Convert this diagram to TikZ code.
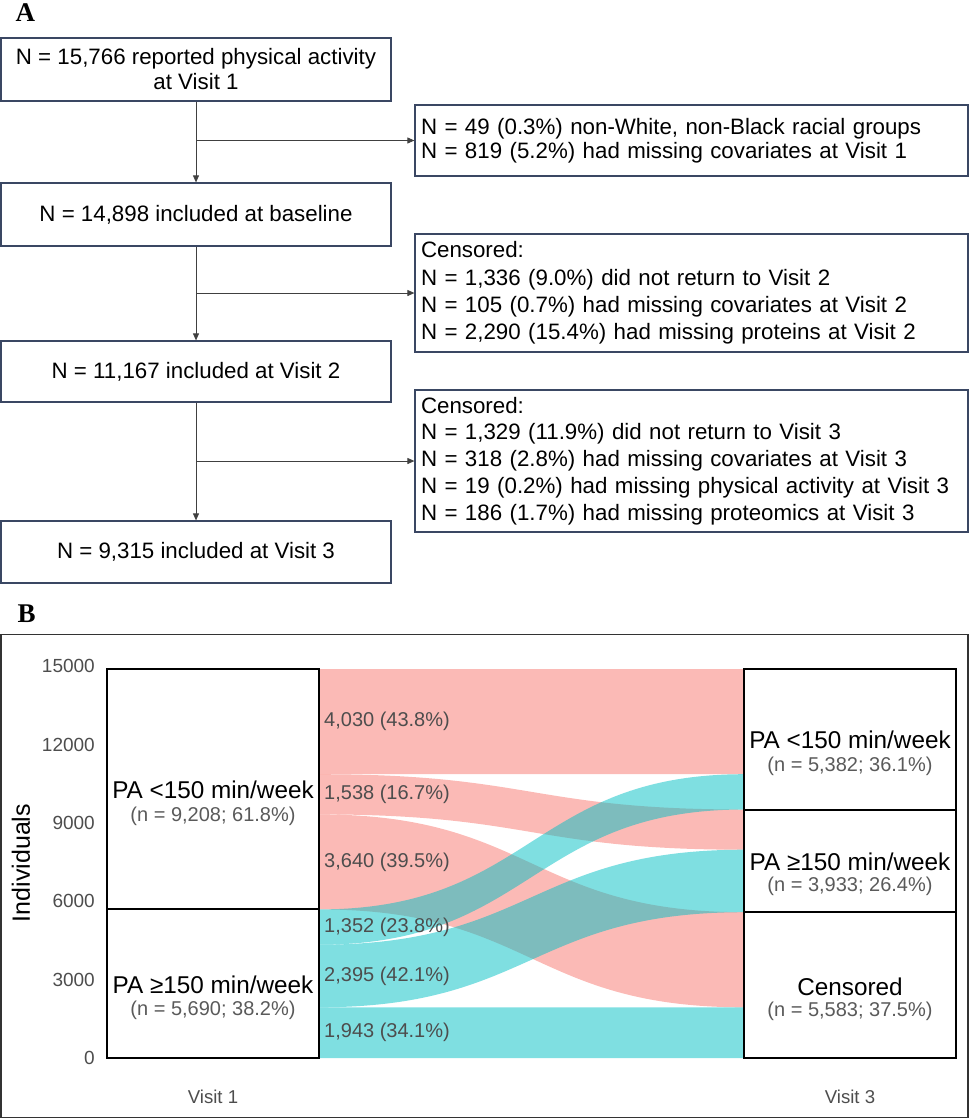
\documentclass[tikz,border=0pt]{standalone}
\usepackage{fontspec}
\setmainfont{Liberation Sans}
\newfontfamily\panelfont{Liberation Serif}
\usetikzlibrary{arrows.meta}
\definecolor{boxedge}{HTML}{3A4763}
\definecolor{arrowgray}{HTML}{404040}
\definecolor{pinkflow}{HTML}{F8766D}
\definecolor{cyanflow}{HTML}{00BFC4}
\definecolor{labgray}{HTML}{4D4D4D}
\definecolor{subgray}{HTML}{5A5A5A}
\definecolor{framegray}{HTML}{333333}
\newcommand\sflow[5]{\fill[#1, fill opacity=0.5] (319,#2) .. controls (531.5,#2) and (531.5,#4) .. (744,#4) -- (744,#5) .. controls (531.5,#5) and (531.5,#3) .. (319,#3) -- cycle;}
\begin{document}
\begin{tikzpicture}[x=1pt,y=-1pt,
  fbox/.style={draw=boxedge, line width=1.2pt, minimum width=390pt, minimum height=62pt, inner sep=0pt, align=center, font=\fontsize{22.3}{25}\selectfont},
  sbox/.style={draw=boxedge, line width=1.2pt, text width=541pt, inner xsep=6pt, inner ysep=0pt, align=left, minimum width=553pt},
  arr/.style={draw=arrowgray, line width=0.9pt, -{Triangle[length=7pt,width=6pt]}},
  panellab/.style={font=\panelfont\bfseries\fontsize{27}{27}\selectfont, inner sep=0pt},
  stratum/.style={draw=black, line width=2pt, fill=white, minimum width=212pt, inner sep=0pt},
  mainlab/.style={font=\fontsize{24.3}{24.3}\selectfont, inner sep=0pt},
  sublab/.style={font=\fontsize{20}{20}\selectfont, text=subgray, inner sep=0pt},
  flowlab/.style={font=\fontsize{20}{20}\selectfont, text=labgray, inner sep=0pt, anchor=west},
  ticklab/.style={font=\fontsize{19}{19}\selectfont, text=labgray, inner sep=0pt, anchor=east},
]
\useasboundingbox (0,0) rectangle (969,1119);

% ---------------- Panel A ----------------
\node[panellab] (labA) at (25.3,13) {A};

\node[fbox, minimum height=63pt] (box1) at (196,69.5) {N = 15,766 reported physical activity\\at Visit 1};
\node[fbox, minimum height=63pt] (box2) at (196,214.5) {N = 14,898 included at baseline};
\node[fbox, minimum height=61pt] (box3) at (196,371.5) {N = 11,167 included at Visit 2};
\node[fbox, minimum height=62pt] (box4) at (196,552) {N = 9,315 included at Visit 3};

\node[sbox, minimum height=71pt, font=\fontsize{22.3}{24.5}\selectfont] (s1) at (691.5,140.5)
  {N = 49 (0.3\%) non-White, non-Black racial groups\\N = 819 (5.2\%) had missing covariates at Visit 1};
\node[sbox, minimum height=118pt, font=\fontsize{22.3}{27.3}\selectfont] (s2) at (691.5,293)
  {Censored:\\N = 1,336 (9.0\%) did not return to Visit 2\\N = 105 (0.7\%) had missing covariates at Visit 2\\N = 2,290 (15.4\%) had missing proteins at Visit 2};
\node[sbox, minimum height=142pt, font=\fontsize{22.3}{26.8}\selectfont] (s3) at (691.5,461)
  {Censored:\\N = 1,329 (11.9\%) did not return to Visit 3\\N = 318 (2.8\%) had missing covariates at Visit 3\\N = 19 (0.2\%) had missing physical activity at Visit 3\\N = 186 (1.7\%) had missing proteomics at Visit 3};

\draw[arr] (box1.south) -- (box2.north);
\draw[arr] (box2.south) -- (box3.north);
\draw[arr] (box3.south) -- (box4.north);
\draw[arr] (box1.south |- s1.west) -- (s1.west);
\draw[arr] (box2.south |- s2.west) -- (s2.west);
\draw[arr] (box3.south |- s3.west) -- (s3.west);

% ---------------- Panel B ----------------
\node[panellab] (labB) at (26.7,614) {B};
\draw[framegray, line width=1.5pt] (0.75,634.5) rectangle (968.2,1117.5);

% flows
\sflow{pinkflow}{669}{774.2}{669}{774.2}
\sflow{pinkflow}{774.2}{814.4}{809.5}{849.7}
\sflow{pinkflow}{814.4}{909.4}{912.2}{1007.3}
\sflow{cyanflow}{909.4}{944.7}{774.2}{809.5}
\sflow{cyanflow}{944.7}{1007.3}{849.7}{912.2}
\sflow{cyanflow}{1007.3}{1058}{1007.3}{1058}

% strata
\node[stratum, minimum height=240.4pt] (L1) at (213,789.2) {};
\node[stratum, minimum height=148.6pt] (L2) at (213,983.7) {};
\node[stratum, minimum height=140.5pt] (R1) at (850,739.25) {};
\node[stratum, minimum height=102.7pt] (R2) at (850,860.85) {};
\node[stratum, minimum height=145.8pt] (R3) at (850,985.1) {};

\node[mainlab] (L1m) at (213,790) {PA <150 min/week};
\node[sublab] (L1s) at (213,816) {(n = 9,208; 61.8\%)};
\node[mainlab] (L2m) at (213,985) {PA ≥150 min/week};
\node[sublab] (L2s) at (213,1010) {(n = 5,690; 38.2\%)};
\node[mainlab] (R1m) at (850,740) {PA <150 min/week};
\node[sublab] (R1s) at (850,766) {(n = 5,382; 36.1\%)};
\node[mainlab] (R2m) at (850,862) {PA ≥150 min/week};
\node[sublab] (R2s) at (850,886) {(n = 3,933; 26.4\%)};
\node[mainlab] (R3m) at (850,987) {Censored};
\node[sublab] (R3s) at (850,1011) {(n = 5,583; 37.5\%)};

% flow labels
\node[flowlab] (f1) at (324,721.6) {4,030 (43.8\%)};
\node[flowlab] (f2) at (324,794.3) {1,538 (16.7\%)};
\node[flowlab] (f3) at (324,862) {3,640 (39.5\%)};
\node[flowlab] (f4) at (324,927) {1,352 (23.8\%)};
\node[flowlab] (f5) at (324,976) {2,395 (42.1\%)};
\node[flowlab] (f6) at (324,1032.7) {1,943 (34.1\%)};

% axis
\node[ticklab] (t15) at (95,666.3) {15000};
\node[ticklab] (t12) at (95,744.7) {12000};
\node[ticklab] (t9) at (95,823) {9000};
\node[ticklab] (t6) at (95,901.3) {6000};
\node[ticklab] (t3) at (95,979.7) {3000};
\node[ticklab] (t0) at (95,1058) {0};
\node[rotate=90, font=\fontsize{25}{25}\selectfont, inner sep=0pt] (ylab) at (21,863) {Individuals};
\node[font=\fontsize{18.6}{18.6}\selectfont, text=labgray, inner sep=0pt] (x1) at (213,1097) {Visit 1};
\node[font=\fontsize{18.6}{18.6}\selectfont, text=labgray, inner sep=0pt] (x3) at (850,1097) {Visit 3};
\end{tikzpicture}
\end{document}
